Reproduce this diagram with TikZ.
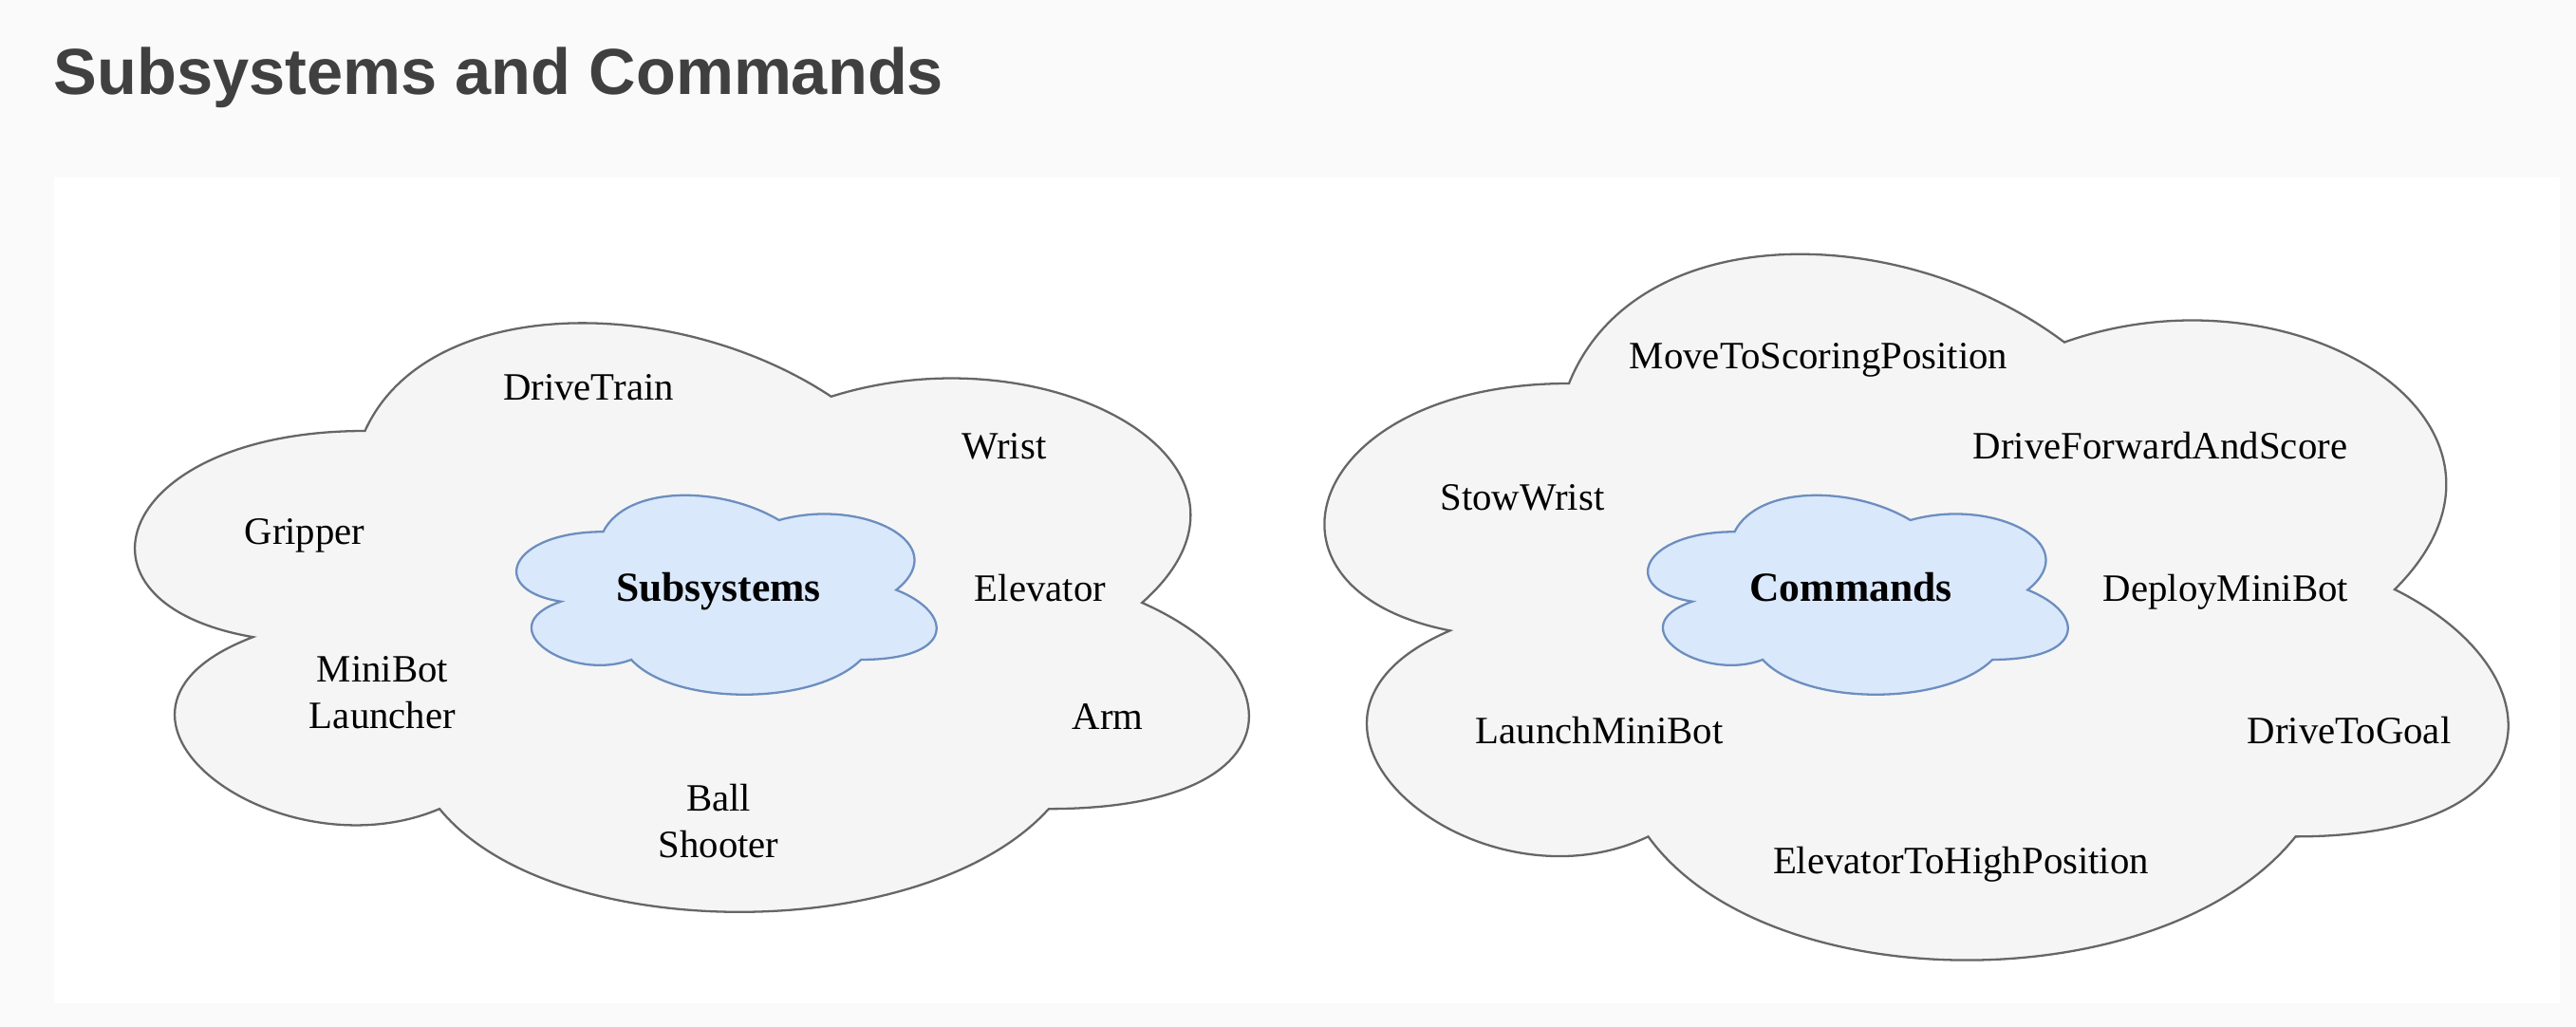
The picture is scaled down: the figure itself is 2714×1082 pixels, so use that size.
\documentclass[tikz,border=0pt]{standalone}
\usepackage{fontspec}
\setmainfont{Liberation Serif}
\newfontfamily\headfont{Liberation Sans}
\definecolor{pagebg}{HTML}{FAFAFA}
\definecolor{headgray}{HTML}{404040}
\definecolor{cloudfill}{HTML}{F5F5F5}
\definecolor{cloudline}{HTML}{666666}
\definecolor{corefill}{HTML}{DAE8FC}
\definecolor{coreline}{HTML}{6C8EBF}
\tikzset{
  pics/cloud/.style={code={
    \path[pic actions] (0.25,0.25) .. controls (0.05,0.25) and (0,0.5) .. (0.16,0.55)
      .. controls (0,0.66) and (0.18,0.9) .. (0.31,0.8)
      .. controls (0.4,1) and (0.7,1) .. (0.8,0.8)
      .. controls (1,0.8) and (1,0.6) .. (0.875,0.5)
      .. controls (1,0.3) and (0.8,0.1) .. (0.625,0.2)
      .. controls (0.5,0.05) and (0.3,0.05) .. (0.25,0.25) -- cycle;}},
  outercloud/.style={draw=cloudline, fill=cloudfill, line width=0.65pt},
  corecloud/.style={draw=coreline, fill=corefill, line width=0.65pt},
  item/.style={inner sep=0pt, anchor=base, align=center, font=\fontsize{11.6}{13.9}\selectfont},
  core/.style={inner sep=0pt, anchor=base, font=\fontsize{12.4}{14.9}\selectfont\bfseries},
}
\begin{document}
\begin{tikzpicture}[x=0.01cm, y=-0.01cm]
  % page and white panel
  \fill[pagebg] (0,0) rectangle (2714,1082);
  \fill[white] (57,187) rectangle (2697,1057);
  \useasboundingbox (0,0) rectangle (2714,1082);
  \node[inner sep=0pt, anchor=base west, text=headgray, font=\headfont\fontsize{19.5}{23}\selectfont\bfseries] (title) at (56,100) {Subsystems and Commands};

  % Subsystems cloud (left)
  \pic[outercloud, xscale=1310, yscale=724] at (57,273) {cloud};
  \pic[corecloud, xscale=494, yscale=245] at (512,499) {cloud};
  \node[core] (subsystems) at (757,633) {Subsystems};
  \node[item] (drivetrain) at (620,422) {DriveTrain};
  \node[item] (wrist) at (1058,483) {Wrist};
  \node[item] (gripper) at (321,573) {Gripper};
  \node[item] (elevator) at (1096,633) {Elevator};
  \node[item] (launcher) at (403,767) {MiniBot\\Launcher};
  \node[item] (arm) at (1167,768) {Arm};
  \node[item] (shooter) at (757,903) {Ball\\Shooter};

  % Commands cloud (right)
  \pic[outercloud, xscale=1392, yscale=868] at (1305,187) {cloud};
  \pic[corecloud, xscale=494, yscale=245] at (1704,499) {cloud};
  \node[core] (commands) at (1950,633) {Commands};
  \node[item] (movescore) at (1916,388) {MoveToScoringPosition};
  \node[item] (forwardscore) at (2276,483) {DriveForwardAndScore};
  \node[item] (stowwrist) at (1604,537) {StowWrist};
  \node[item] (deploybot) at (2345,633) {DeployMiniBot};
  \node[item] (launchbot) at (1685,783) {LaunchMiniBot};
  \node[item] (drivegoal) at (2475,783) {DriveToGoal};
  \node[item] (elevatorhigh) at (2066,920) {ElevatorToHighPosition};
\end{tikzpicture}
\end{document}
